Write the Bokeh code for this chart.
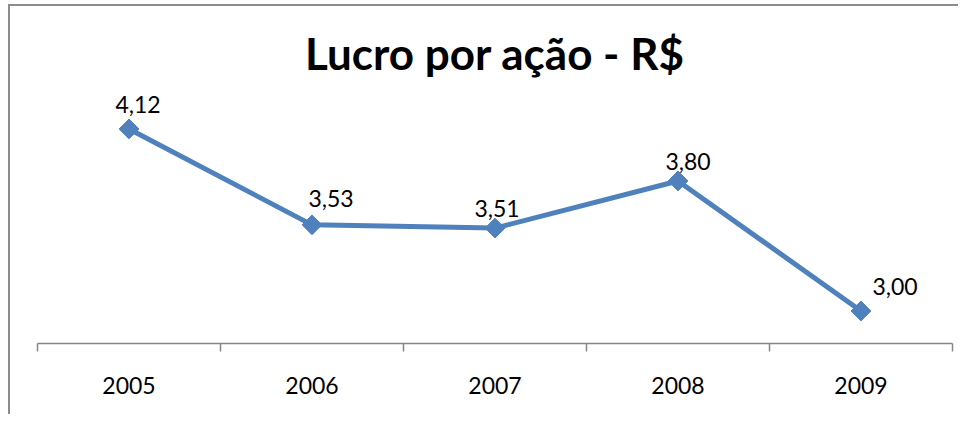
from bokeh.plotting import figure
from bokeh.models import ColumnDataSource, FixedTicker, Range1d
from bokeh.core.properties import value
from bokeh.embed import file_html
from bokeh.resources import INLINE
import math

# data
years = ["2005", "2006", "2007", "2008", "2009"]
eps = [4.12, 3.53, 3.51, 3.80, 3.00]
eps_labels = ["4,12", "3,53", "3,51", "3,80", "3,00"]

# label placement (screen px, styling only)
label_dx = [9, 19, 2, 10, 34]
label_dy = [-24, -26, -20, -19, -24]

BLUE = "#4F81BD"
GRAY = "#868686"
FONT = "Lato"

xs = list(range(len(years)))
src = ColumnDataSource(dict(x=xs, y=eps, lbl=eps_labels, dx=label_dx, dy=label_dy))

p = figure(width=950, height=410, output_backend="svg", toolbar_location=None,
           x_range=Range1d(-0.5, len(years) - 0.5), y_range=Range1d(2.8, 4.412),
           y_axis_location=None, min_border_left=27, min_border_right=8,
           min_border_top=75, min_border_bottom=73,
           title="Lucro por ação - R$")
p.styles = {"border-left": "2px solid #8c8c8c", "border-top": "2px solid #8c8c8c",
            "margin-left": "8px", "margin-top": "4px"}

p.title.align = "center"
p.title.text_font = FONT
p.title.text_font_size = "44px"
p.title.text_font_style = "bold"
p.title.text_color = "black"
p.title.standoff = 5

p.grid.visible = False
p.outline_line_color = None
p.background_fill_color = "white"
p.border_fill_color = "white"

ax = p.xaxis[0]
ax.ticker = FixedTicker(ticks=xs, minor_ticks=[i - 0.5 for i in range(len(years) + 1)])
ax.major_label_overrides = {i: y for i, y in enumerate(years)}
ax.major_tick_out = 0
ax.major_tick_in = 0
ax.minor_tick_out = 8
ax.minor_tick_in = 0
ax.minor_tick_line_color = GRAY
ax.minor_tick_line_width = 1.5
ax.axis_line_color = GRAY
ax.axis_line_width = 1.5
ax.major_label_standoff = 25
ax.major_label_text_font = FONT
ax.major_label_text_font_size = "23px"
ax.major_label_text_color = "black"

p.line("x", "y", source=src, line_color=BLUE, line_width=5)
p.scatter("x", "y", source=src, marker="square", angle=math.pi / 4, size=14,
          fill_color=BLUE, line_color=BLUE)
p.text("x", "y", text="lbl", source=src, x_offset="dx", y_offset="dy",
       text_align="center", text_baseline="middle", text_font=value(FONT),
       text_font_size="23px", text_color="black")

open("out.html", "w").write(file_html(p, INLINE))
